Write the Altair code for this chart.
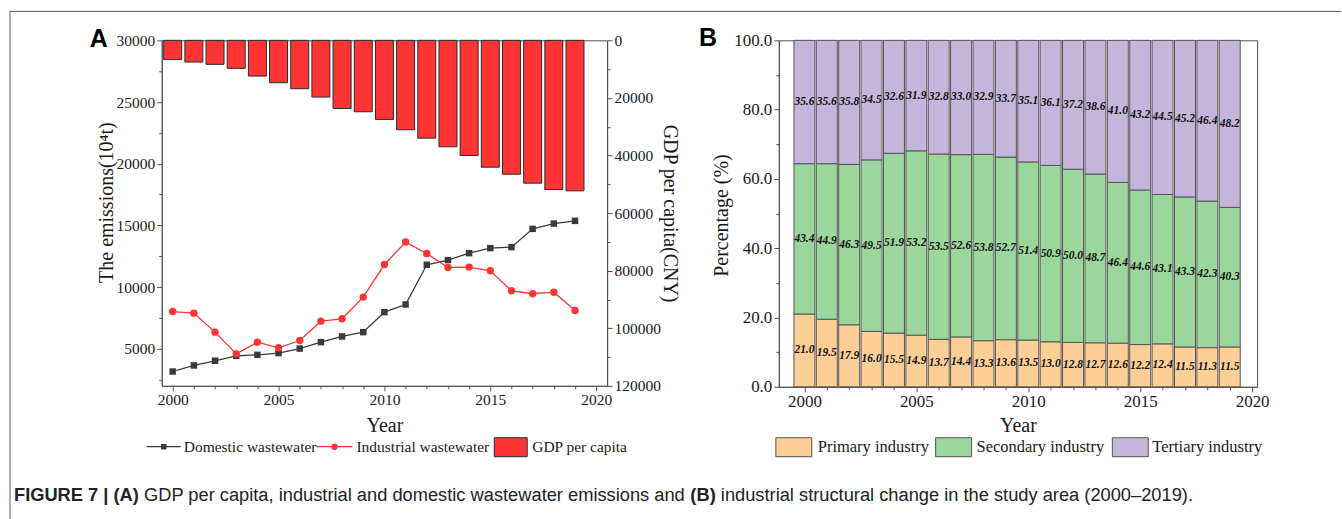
import altair as alt
import pandas as pd

# ---------------- data ----------------
years = list(range(2000, 2020))
gdp_per_capita = [6710, 7540, 8350, 9740, 12410, 14720, 16810, 19710, 23650, 24810,
                  27480, 31060, 33970, 36980, 40000, 44060, 46500, 49620, 51820, 52280]
domestic_ww = [3160, 3650, 4030, 4430, 4510, 4650, 5020, 5540, 6000, 6350,
               7970, 8590, 11810, 12190, 12750, 13160, 13240, 14720, 15150, 15370]
industrial_ww = [8020, 7890, 6350, 4590, 5540, 5080, 5670, 7240, 7430, 9190,
                 11830, 13650, 12720, 11590, 11620, 11320, 9700, 9460, 9590, 8100]
primary = [21.0, 19.5, 17.9, 16.0, 15.5, 14.9, 13.7, 14.4, 13.3, 13.6,
           13.5, 13.0, 12.8, 12.7, 12.6, 12.2, 12.4, 11.5, 11.3, 11.5]
secondary = [43.4, 44.9, 46.3, 49.5, 51.9, 53.2, 53.5, 52.6, 53.8, 52.7,
             51.4, 50.9, 50.0, 48.7, 46.4, 44.6, 43.1, 43.3, 42.3, 40.3]
tertiary = [35.6, 35.6, 35.8, 34.5, 32.6, 31.9, 32.8, 33.0, 32.9, 33.7,
            35.1, 36.1, 37.2, 38.6, 41.0, 43.2, 44.5, 45.2, 46.4, 48.2]

series_a = ["Domestic wastewater", "Industrial wastewater", "GDP per capita"]
series_b = ["Primary industry", "Secondary industry", "Tertiary industry"]
caption_parts = ["FIGURE 7 | (A)",
                 "GDP per capita, industrial and domestic wastewater emissions and",
                 "(B)",
                 "industrial structural change in the study area (2000\u20132019)."]
x_ticks = list(range(2000, 2021))
left_ticks = list(range(2500, 30001, 2500))
right_ticks = list(range(0, 120001, 10000))
pct_ticks = list(range(0, 101, 10))

# ---------------- style ----------------
SERIF = "Liberation Serif"
SANS = "Liberation Sans"
AXIS = "#505050"
INK = "#1a1a1a"
RED = "#ff3535"
DARK = "#3a3a3a"
COL_B = ["#fdcf96", "#9bd69c", "#c4b6da"]
WA, HA = 446, 346
WB, HB = 479, 347
CAP = 18.3

one = pd.DataFrame({"k": [0]})


def ticksize(test, big, small):
    return {"condition": {"test": test, "value": big}, "value": small}


# ---------------- panel A ----------------
dfA = pd.DataFrame({"year": years, "gdp": gdp_per_capita,
                    "dom": domestic_ww, "ind": industrial_ww})

x_a = alt.X("year:Q",
            scale=alt.Scale(domain=[1999.72, 2020.28], nice=False, zero=False),
            axis=alt.Axis(title="Year", values=x_ticks, format="d",
                          labelExpr="datum.value % 5 === 0 ? datum.label : ''",
                          tickSize=ticksize("datum.value % 5 === 0", 5, 3),
                          labelFontSize=15.5, titleFontSize=20, labelOverlap=False,
                          labelFlush=False, labelPadding=2,
                          titleX=223, titleY=40, titleBaseline="middle"))

left_axis = alt.Axis(orient="left", title="The emissions(10\u2074t)", values=left_ticks,
                     format="d",
                     labelExpr="datum.value % 5000 === 0 ? datum.label : ''",
                     tickSize=ticksize("datum.value % 5000 === 0", 5, 3),
                     labelFontSize=15.5, titleFontSize=20, labelOverlap=False,
                     labelFlush=False, labelPadding=2,
                     titleX=-55, titleY=162, titleBaseline="middle")
left_scale = alt.Scale(domain=[2000, 30000], nice=False, zero=False)


def y_left(field):
    return alt.Y(f"{field}:Q", scale=left_scale, axis=left_axis)


right_axis = alt.Axis(orient="right", title="GDP per capita(CNY)", values=right_ticks,
                      format="d",
                      labelExpr="datum.value % 20000 === 0 ? datum.label : ''",
                      tickSize=ticksize("datum.value % 20000 === 0", 5, 3),
                      labelFontSize=15.5, titleFontSize=20, labelOverlap=False,
                      labelFlush=False, labelPadding=2,
                      titleX=62, titleY=173, titleBaseline="middle")

bars_a = alt.Chart(dfA).mark_bar(size=18, color=RED, stroke="#2a2a2a", strokeWidth=1).encode(
    x=x_a,
    y=alt.Y("gdp:Q", scale=alt.Scale(domain=[0, 120000], reverse=True, nice=False, zero=True),
            axis=right_axis))

dom_line = alt.Chart(dfA).mark_line(color=DARK, strokeWidth=1.3).encode(x=x_a, y=y_left("dom"))
dom_pts = alt.Chart(dfA).mark_point(shape="square", filled=True, size=42, color=DARK,
                                    opacity=1).encode(x=x_a, y=y_left("dom"))
ind_line = alt.Chart(dfA).mark_line(color=RED, strokeWidth=1.3).encode(x=x_a, y=y_left("ind"))
ind_pts = alt.Chart(dfA).mark_point(shape="circle", filled=True, size=55, color=RED,
                                    opacity=1).encode(x=x_a, y=y_left("ind"))
lines_a = alt.layer(dom_line, dom_pts, ind_line, ind_pts)


def txt(s, x, y, size, font=SERIF, weight="normal", align="left", color=INK):
    return alt.Chart(one).mark_text(text=s, align=align, baseline="middle", font=font,
                                    fontSize=size, fontWeight=weight, color=color).encode(
        x=alt.value(x), y=alt.value(y))


def hrule(x1, x2, y, color, width=1.3):
    return alt.Chart(one).mark_rule(color=color, strokeWidth=width).encode(
        x=alt.value(x1), x2=alt.value(x2), y=alt.value(y))


def box(x1, x2, y1, y2, fill, stroke):
    return alt.Chart(one).mark_rect(fill=fill, stroke=stroke, strokeWidth=1).encode(
        x=alt.value(x1), x2=alt.value(x2), y=alt.value(y1), y2=alt.value(y2))


LY = 407
decor_a = [
    # invisible rect spanning the whole page (fixes the overall bounds)
    alt.Chart(one).mark_rect(opacity=0).encode(
        x=alt.value(-161), x2=alt.value(1181), y=alt.value(-39), y2=alt.value(480)),
    # figure frame (top and left edges)
    alt.Chart(one).mark_rule(color="#555555", strokeWidth=1).encode(
        x=alt.value(-152), x2=alt.value(1181), y=alt.value(-29)),
    alt.Chart(one).mark_rule(color="#555555", strokeWidth=1).encode(
        x=alt.value(-152), y=alt.value(-29), y2=alt.value(480)),
    txt("A", -63, -1, 25, font=SANS, weight="bold", align="center", color="#000"),
    # legend
    hrule(-15, 19, LY, DARK),
    alt.Chart(one).mark_point(shape="square", filled=True, size=30, color=DARK, opacity=1).encode(
        x=alt.value(2), y=alt.value(LY)),
    txt(series_a[0], 22, LY, 15.5),
    hrule(155, 191, LY, RED),
    alt.Chart(one).mark_point(shape="circle", filled=True, size=40, color=RED, opacity=1).encode(
        x=alt.value(173), y=alt.value(LY)),
    txt(series_a[1], 195, LY, 15.5),
    box(333, 366, 398, 417, RED, "#2a2a2a"),
    txt(series_a[2], 371, LY, 15.5),
    # caption
    txt(caption_parts[0], -148, 456, CAP, font=SANS, weight="bold", color="#222"),
    txt(caption_parts[1], -17.8, 456, CAP, font=SANS, color="#222"),
    txt(caption_parts[2], 529.4, 456, CAP, font=SANS, weight="bold", color="#222"),
    txt(caption_parts[3], 559.9, 456, CAP, font=SANS, color="#222"),
]

panel_a = alt.layer(bars_a, lines_a, *decor_a).resolve_scale(y="independent").properties(
    width=WA, height=HA)

# ---------------- panel B ----------------
rows = []
for i, yr in enumerate(years):
    lo = 0.0
    for cat, vals in zip(series_b, [primary, secondary, tertiary]):
        v = vals[i]
        rows.append({"year": yr, "cat": cat, "value": v, "lo": lo, "hi": lo + v,
                     "mid": lo + v / 2})
        lo += v
dfB = pd.DataFrame(rows)

x_b = alt.X("year:Q",
            scale=alt.Scale(domain=[1999.08, 2020], nice=False, zero=False),
            axis=alt.Axis(title="Year", values=x_ticks, format="d",
                          labelExpr="datum.value % 5 === 0 ? datum.label : ''",
                          tickSize=ticksize("datum.value % 5 === 0", 5, 3),
                          labelFontSize=17, titleFontSize=20, labelOverlap=False,
                          labelFlush=False, labelPadding=2,
                          titleX=239.5, titleY=39, titleBaseline="middle"))
y_scale_b = alt.Scale(domain=[0, 100], nice=False, zero=True)
y_axis_b = alt.Axis(title="Percentage (%)", values=pct_ticks, format=".1f",
                    labelExpr="datum.value % 20 === 0 ? datum.label : ''",
                    tickSize=ticksize("datum.value % 20 === 0", 5, 3),
                    labelFontSize=17, titleFontSize=20, labelOverlap=False,
                    labelFlush=False, labelPadding=2,
                    titleX=-57, titleY=175, titleBaseline="middle")

bars_b = alt.Chart(dfB).mark_bar(size=21, stroke="#555555", strokeWidth=1).encode(
    x=x_b,
    y=alt.Y("lo:Q", scale=y_scale_b, axis=y_axis_b),
    y2="hi:Q",
    color=alt.Color("cat:N", scale=alt.Scale(domain=series_b, range=COL_B), legend=None))

labels_b = alt.Chart(dfB).mark_text(font=SERIF, fontStyle="italic", fontWeight="bold",
                                    fontSize=11.5, color="#111", baseline="middle").encode(
    x=x_b,
    y=alt.Y("mid:Q", scale=y_scale_b, axis=y_axis_b),
    text=alt.Text("value:Q", format=".1f"))

decor_b = [
    txt("B", -71, -2, 25, font=SANS, weight="bold", align="center", color="#000"),
    box(-3, 33, 398, 417, COL_B[0], "#555555"),
    txt(series_b[0], 39, LY, 16.5),
    box(157, 193, 398, 417, COL_B[1], "#555555"),
    txt(series_b[1], 198, LY, 16.5),
    box(334, 370, 398, 417, COL_B[2], "#555555"),
    txt(series_b[2], 374, LY, 16.5),
]

panel_b = alt.layer(bars_b, labels_b, *decor_b).properties(width=WB, height=HB)

chart = alt.hconcat(panel_a, panel_b, spacing=172, bounds="flush").properties(
    padding=0, background="white"
).configure_view(stroke=AXIS, strokeWidth=1).configure_axis(
    labelFont=SERIF, titleFont=SERIF, labelColor=INK, titleColor=INK,
    domainColor=AXIS, tickColor=AXIS, grid=False, titleFontWeight="normal",
    domainWidth=1, tickWidth=1)

chart.save("out.html", embed_options={"renderer": "svg", "actions": False})
